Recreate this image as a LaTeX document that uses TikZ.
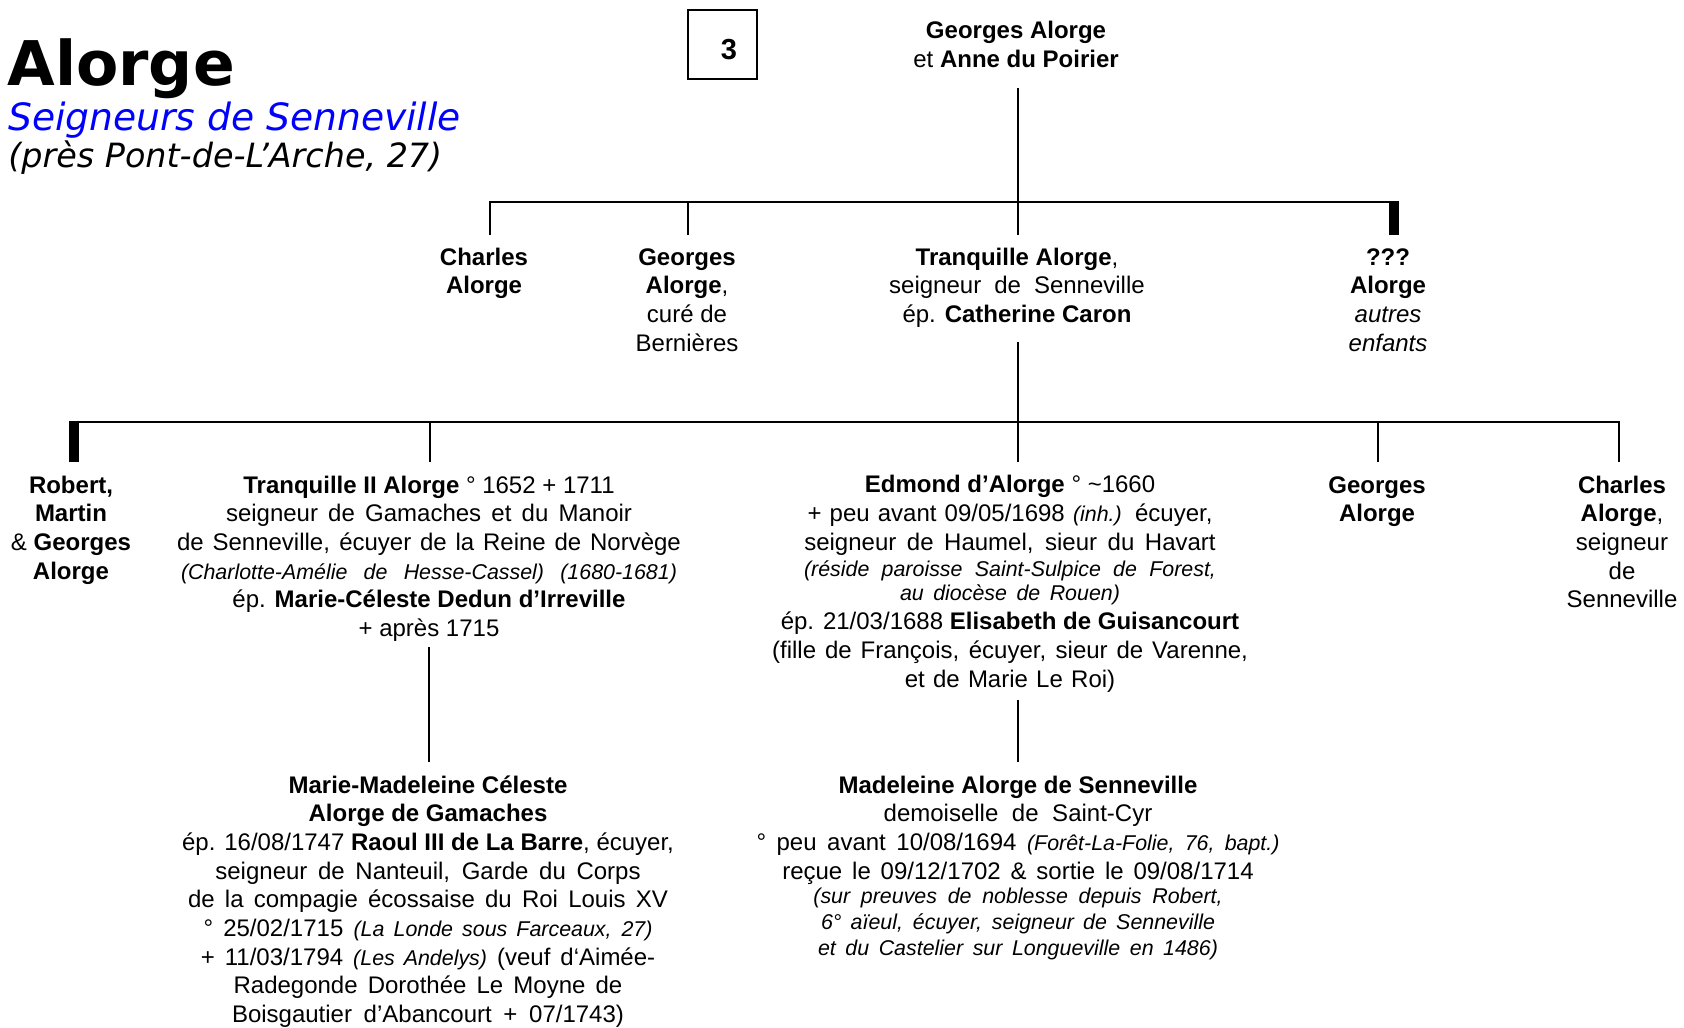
\documentclass[tikz,border=0pt]{standalone}
\usepackage{fontspec}
\setmainfont{Liberation Sans}
\newfontfamily\titlefam{DejaVu Sans}
\definecolor{tblue}{RGB}{0,0,255}
\newcommand\fnrm{\fontsize{12}{14.35}\selectfont}
\newcommand\smit{\fontsize{10.7}{12}\selectfont\itshape}
\newcommand\spr[2]{\makebox[#1pt][s]{#2}}
\tikzset{
  person/.style={align=center, anchor=base, inner sep=0pt, font=\fnrm},
  conn/.style={line width=1.3pt, line cap=butt},
  heavy/.style={line width=4.8pt, line cap=butt},
}
\begin{document}
\begin{tikzpicture}[x=0.5pt,y=-0.5pt]
\useasboundingbox (0,0) rectangle (1684,1027);
% title block
\node[anchor=base west, inner sep=0pt, font=\titlefam\fontsize{30.8}{36}\selectfont\bfseries] (title) at (7,86) {Alorge};
\node[anchor=base west, inner sep=0pt, text=tblue, font=\titlefam\fontsize{18.8}{22}\selectfont\itshape] (sub) at (8,131) {Seigneurs de Senneville};
\node[anchor=base west, inner sep=0pt, font=\titlefam\fontsize{16.7}{20}\selectfont\itshape] (loc) at (8,168) {(près Pont-de-L’Arche, 27)};
% number box
\node[draw, line width=0.75pt, minimum width=34.5pt, minimum height=34.5pt, inner sep=0pt] (numbox) at (722.5,44.5) {};
\node[inner sep=0pt, font=\fontsize{14.5}{17}\selectfont\bfseries] (num) at (729,49.5) {3};
% generation 0 (anchor = baseline of last line)
\node[person] (g0) at (1016,67.5) {\textbf{Georges Alorge}\\et \textbf{Anne du Poirier}};
% generation 1
\node[person] (c1) at (484,293.7) {\textbf{Charles}\\\textbf{Alorge}};
\node[person] (g1) at (687,351.1) {\textbf{Georges}\\\textbf{Alorge},\\curé de\\Bernières};
\node[person] (t1) at (1017,322.4) {\textbf{Tranquille Alorge},\\\spr{127.8}{seigneur de Senneville}\\ép. \textbf{Catherine Caron}};
\node[person] (q1) at (1388,351.1) {\textbf{???}\\\textbf{Alorge}\\\textit{autres}\\\textit{enfants}};
% generation 2
\node[person] (r2) at (71,579.1) {\textbf{Robert,}\\\textbf{Martin}\\\& \textbf{Georges}\\\textbf{Alorge}};
\node[person] (t2) at (429,636.5) {\textbf{Tranquille II Alorge} ° 1652 + 1711\\
\spr{203}{seigneur de Gamaches et du Manoir}\\
\spr{251.9}{de Senneville, écuyer de la Reine de Norvège}\\
{\smit\spr{248}{(Charlotte-Amélie de Hesse-Cassel) (1680-1681)}}\\
ép. \textbf{Marie-Céleste Dedun d’Irreville}\\
+ après 1715};
\node[person] (e2) at (1010,687) {\textbf{Edmond d’Alorge} ° \textasciitilde1660\\
\spr{202.5}{+ peu avant 09/05/1698 {\smit (inh.)} écuyer,}\\
\spr{205.7}{seigneur de Haumel, sieur du Havart}\\[-1.4pt]
{\smit\spr{206}{(réside paroisse Saint-Sulpice de Forest,}}\\[-1.9pt]
{\smit\spr{110}{au diocèse de Rouen)}}\\
ép. 21/03/1688 \textbf{Elisabeth de Guisancourt}\\
\spr{237.9}{(fille de François, écuyer, sieur de Varenne,}\\
\spr{105.2}{et de Marie Le Roi)}};
\node[person] (g2) at (1377,521.7) {\textbf{Georges}\\\textbf{Alorge}};
\node[person] (c2) at (1622,607.8) {\textbf{Charles}\\\textbf{Alorge},\\seigneur\\de\\Senneville};
% generation 3
\node[person] (m3) at (428,1022.6) {\textbf{Marie-Madeleine Céleste}\\
\textbf{Alorge de Gamaches}\\
ép. 16/08/1747 \textbf{Raoul III de La Barre}, écuyer,\\
\spr{212.6}{seigneur de Nanteuil, Garde du Corps}\\
\spr{240}{de la compagie écossaise du Roi Louis XV}\\
\spr{224.5}{° 25/02/1715 {\smit (La Londe sous Farceaux, 27)}}\\
\spr{227.2}{+ 11/03/1794 {\smit (Les Andelys)} (veuf d‘Aimée-}\\
\spr{194.4}{Radegonde Dorothée Le Moyne de}\\
\spr{196}{Boisgautier d’Abancourt + 07/1743)}};
\node[person] (d3) at (1018,955) {\textbf{Madeleine Alorge de Senneville}\\
\spr{134.3}{demoiselle de Saint-Cyr}\\
\spr{261.5}{° peu avant 10/08/1694 {\smit (Forêt-La-Folie, 76, bapt.)}}\\
\spr{235.7}{reçue le 09/12/1702 \& sortie le 09/08/1714}\\[-2.4pt]
{\smit\spr{204.6}{(sur preuves de noblesse depuis Robert,}}\\[-1.4pt]
{\smit\spr{197}{6° aïeul, écuyer, seigneur de Senneville}}\\[-1.4pt]
{\smit\spr{200}{et du Castelier sur Longueville en 1486)}}};
% connector coordinates
\coordinate (g0s) at (1018,88);
\coordinate (b1) at (1018,202);
\coordinate (c1n) at (490,235);
\coordinate (b1l) at (490,202);
\coordinate (g1n) at (688,235);
\coordinate (g1t) at (688,202);
\coordinate (t1n) at (1018,235);
\coordinate (b1r) at (1398,202);
\coordinate (q1t) at (1394,200.7);
\coordinate (q1n) at (1394,235);
\coordinate (t1s) at (1018,342);
\coordinate (b2) at (1018,422);
\coordinate (b2l) at (69,422);
\coordinate (r2t) at (74,420.7);
\coordinate (r2n) at (74,462);
\coordinate (t2t) at (430,422);
\coordinate (t2n) at (430,462);
\coordinate (e2n) at (1018,462);
\coordinate (g2t) at (1378,422);
\coordinate (g2n) at (1378,462);
\coordinate (c2n) at (1619,462);
\coordinate (b2r) at (1619,422);
\coordinate (t2s) at (429,647);
\coordinate (m3n) at (429,762);
\coordinate (e2s) at (1018,700);
\coordinate (d3n) at (1018,762);
% connectors
\draw[conn] (g0s) -- (b1);
\draw[conn] (c1n) -- (b1l) -- (b1r);
\draw[conn] (g1t) -- (g1n);
\draw[conn] (b1) -- (t1n);
\draw[heavy] (q1t) -- (q1n);
\draw[conn] (t1s) -- (b2);
\draw[conn] (b2l) -- (b2r) -- (c2n);
\draw[heavy] (r2t) -- (r2n);
\draw[conn] (t2t) -- (t2n);
\draw[conn] (b2) -- (e2n);
\draw[conn] (g2t) -- (g2n);
\draw[conn] (t2s) -- (m3n);
\draw[conn] (e2s) -- (d3n);
\end{tikzpicture}
\end{document}
